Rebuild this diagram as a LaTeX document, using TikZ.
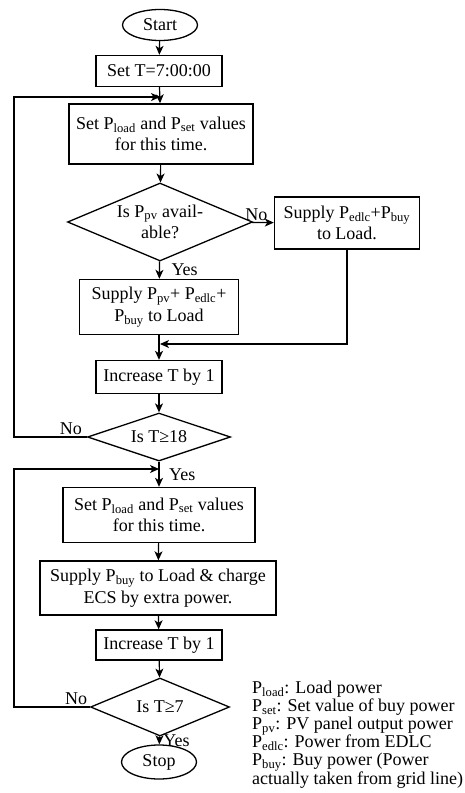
\documentclass[tikz,border=0pt]{standalone}
\usepackage{fontspec}
\setmainfont{Liberation Serif}
\usetikzlibrary{shapes.geometric,arrows.meta}
\newcommand{\Pw}[1]{P\textsubscript{#1}}
\begin{document}
\begin{tikzpicture}[x=1pt,y=-1pt,font=\fontsize{18}{21.5}\selectfont,
  box/.style={draw,line width=1.4pt,align=center,inner sep=0pt},
  term/.style={draw,ellipse,line width=1.3pt,inner sep=0pt,minimum width=75pt,minimum height=31pt},
  test/.style={draw,diamond,line width=1.3pt,inner sep=0pt,align=center},
  link/.style={line width=1.2pt,-{Stealth[length=9pt,width=8pt,inset=2.5pt]}},
  tag/.style={inner sep=1.5pt}]
\useasboundingbox (0,0) rectangle (465,793);
\node[term] (start) at (160,25) {Start};
\node[box,minimum width=126pt,minimum height=31pt] (setT) at (159,71) {Set T=7:00:00};
\node[box,minimum width=184pt,minimum height=60pt] (set1) at (161,134) {Set \Pw{load} and \Pw{set} values\\for this time.};
\node[test,aspect=2.37,minimum width=185pt,minimum height=78pt] (pv) at (160,222) {Is \Pw{pv} avail-\\able?};
\node[box,minimum width=145pt,minimum height=52pt] (nopv) at (347,223) {Supply \Pw{edlc}+\Pw{buy}\\to Load.};
\node[box,minimum width=159pt,minimum height=55pt] (yespv) at (159,307) {Supply \Pw{pv}+ \Pw{edlc}+\\\Pw{buy} to Load};
\node[box,minimum width=126pt,minimum height=33pt] (inc1) at (159,377) {Increase T by 1};
\node[test,aspect=3,minimum width=143pt,minimum height=48pt] (t18) at (159,437) {Is T≥18};
\node[box,minimum width=192pt,minimum height=55pt] (set2) at (159,515) {Set \Pw{load} and \Pw{set} values\\for this time.};
\node[box,minimum width=236pt,minimum height=54pt] (buy) at (158,588) {Supply \Pw{buy} to Load \& charge\\ECS by extra power.};
\node[box,minimum width=126pt,minimum height=30pt] (inc2) at (159,645) {Increase T by 1};
\node[test,aspect=2.4,minimum width=139pt,minimum height=58pt] (t7) at (160,707) {Is T≥7};
\node[term,minimum height=34pt] (stop) at (159,762) {Stop};
\node[align=left,anchor=north west,inner sep=0pt,font=\fontsize{18}{18}\selectfont] (key) at (252,681)
  {\Pw{load}: Load power\\
   \Pw{set}: Set value of buy power\\
   \Pw{pv}: PV panel output power\\
   \Pw{edlc}: Power from EDLC\\
   \Pw{buy}: Buy power (Power\\
   actually taken from grid line)};
\coordinate (j1) at (160,97);
\coordinate (j2) at (160,344);
\coordinate (j3) at (159,469);
\coordinate (l1) at (14,97);
\coordinate (l2) at (14,469);
\draw[link] (start) -- (setT);
\draw[link] (setT) -- (set1);
\draw[link] (set1) -- (pv);
\draw[link] (pv) -- node[tag,pos=0.2,above]{No} (nopv);
\draw[link] (pv) -- node[tag,midway,right=10pt]{Yes} (yespv);
\draw[link] (yespv) -- (inc1);
\draw[link] (nopv.south) |- (j2);
\draw[link] (inc1) -- (t18);
\draw[link] (t18.west) -- node[tag,pos=0.22,above]{No} (l1 |- t18.west) -- (l1) -- (j1);
\draw[link] (t18) -- node[tag,midway,right=8pt]{Yes} (set2);
\draw[link] (set2) -- (buy);
\draw[link] (buy) -- (inc2);
\draw[link] (inc2) -- (t7);
\draw[link] (t7.west) -- node[tag,pos=0.18,above]{No} (l2 |- t7.west) -- (l2) -- (j3);
\draw[link] (t7) -- node[tag,pos=0.6,right=2pt]{Yes} (stop);
\end{tikzpicture}
\end{document}
